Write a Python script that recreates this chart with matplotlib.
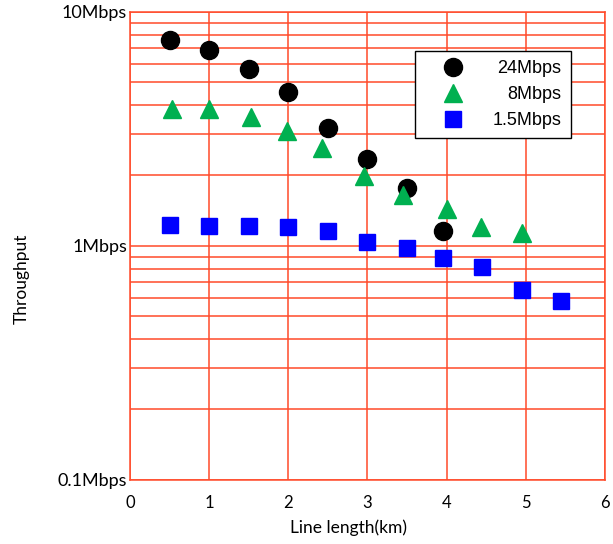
import matplotlib
matplotlib.use('Agg')
import matplotlib.pyplot as plt
from matplotlib.ticker import FixedLocator, LogLocator, NullFormatter

# data (x = line length in km, y = throughput in Mbps)
x_24 = [0.5, 1.0, 1.5, 2.0, 2.5, 3.0, 3.5, 3.95]
y_24 = [7.6, 6.9, 5.7, 4.55, 3.2, 2.35, 1.77, 1.16]
x_8 = [0.53, 1.0, 1.53, 1.98, 2.42, 2.95, 3.45, 4.0, 4.43, 4.95]
y_8 = [3.83, 3.83, 3.54, 3.09, 2.61, 1.99, 1.65, 1.44, 1.20, 1.14]
x_15 = [0.5, 1.0, 1.5, 2.0, 2.5, 3.0, 3.5, 3.95, 4.45, 4.95, 5.45]
y_15 = [1.23, 1.22, 1.22, 1.20, 1.16, 1.04, 0.98, 0.89, 0.81, 0.65, 0.58]
labels = ['24Mbps', '8Mbps', '1.5Mbps']
ytick_vals = [0.1, 1, 10]
ytick_labels = ['0.1Mbps', '1Mbps', '10Mbps']

grid_col = '#ff4a2a'
tick_font = 'Lato'

fig = plt.figure(figsize=(6.13, 5.44), dpi=100)
ax = fig.add_axes([0.212, 0.118, 0.775, 0.860])

ax.plot(x_24, y_24, 'o', color='black', markersize=13, label=labels[0], zorder=3)
ax.plot(x_8, y_8, '^', color='#00b050', markersize=13, label=labels[1], zorder=3)
ax.plot(x_15, y_15, 's', color='#0000ff', markersize=11.5, label=labels[2], zorder=3)

ax.set_yscale('log')
ax.set_xlim(0, 6)
ax.set_ylim(0.1, 10)
ax.set_xticks(range(7))
ax.yaxis.set_major_locator(FixedLocator(ytick_vals))
ax.set_yticklabels(ytick_labels)
ax.yaxis.set_minor_locator(LogLocator(base=10, subs=range(2, 10)))
ax.yaxis.set_minor_formatter(NullFormatter())

ax.grid(True, which='major', axis='x', color=grid_col, linewidth=1.1)
ax.grid(True, which='both', axis='y', color=grid_col, linewidth=1.1)
ax.set_axisbelow(True)
for s in ax.spines.values():
    s.set_color(grid_col)
    s.set_linewidth(1.1)

ax.tick_params(which='both', length=0)
ax.tick_params(axis='x', pad=11)
ax.tick_params(axis='y', pad=2)
for t in ax.get_xticklabels():
    t.set_fontfamily(tick_font)
    t.set_fontsize(12)
for t in ax.get_yticklabels():
    t.set_fontfamily(tick_font)
    t.set_fontsize(13)

ax.set_xlabel('Line length(km)', fontfamily=tick_font, fontsize=12.5)
ax.xaxis.set_label_coords(0.46, -0.085)
ax.set_ylabel('Throughput', fontfamily=tick_font, fontsize=12.5)
ax.yaxis.set_label_coords(-0.21, 0.43)

leg = ax.legend(loc='upper left', bbox_to_anchor=(0.6, 0.917), frameon=True,
                fancybox=False, edgecolor='black', framealpha=1,
                prop={'family': 'Liberation Sans', 'size': 13},
                handletextpad=0.6, labelspacing=0.5, borderpad=0.5,
                handlelength=3.2, borderaxespad=0)
leg.get_frame().set_linewidth(1.0)

# right-align legend labels by nudging the shorter ones
renderer = fig.canvas.get_renderer()
widths = [t.get_window_extent(renderer).width for t in leg.get_texts()]
for t, w in zip(leg.get_texts(), widths):
    t.set_position((max(widths) - w, 0))

fig.savefig('out.png', dpi=100)
